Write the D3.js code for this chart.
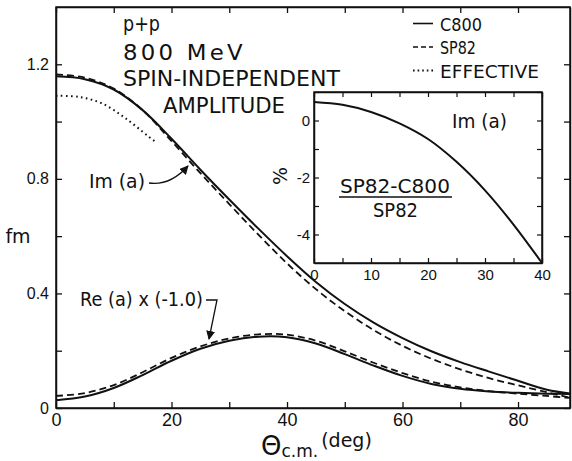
<!DOCTYPE html>
<html>
<head>
<meta charset="utf-8">
<script src="https://cdn.jsdelivr.net/npm/d3@7/dist/d3.min.js"></script>
<style>
  body { margin: 0; background: white; }
  svg { display: block; font-family: "DejaVu Sans", sans-serif; }
  .axis path, .axis line { stroke: #111; }
  .axis text { fill: #111; }
</style>
</head>
<body>
<div id="container"></div>
<script>
// angles (deg) and amplitudes (fm)
const deg = [0, 5, 10, 15, 20, 25, 30, 35, 40, 45, 50, 55, 60, 65, 70, 75, 80, 85, 89];
const imC800 = [1.158, 1.148, 1.112, 1.040, 0.940, 0.832, 0.728, 0.627, 0.530, 0.440, 0.363, 0.298, 0.244, 0.198, 0.160, 0.127, 0.095, 0.064, 0.051];
const imSP82 = [1.165, 1.153, 1.115, 1.040, 0.932, 0.820, 0.712, 0.606, 0.505, 0.415, 0.338, 0.272, 0.217, 0.172, 0.135, 0.104, 0.079, 0.055, 0.036];
const reC800 = [0.027, 0.040, 0.070, 0.115, 0.165, 0.207, 0.235, 0.249, 0.247, 0.225, 0.188, 0.148, 0.112, 0.084, 0.067, 0.058, 0.053, 0.050, 0.049];
const reSP82 = [0.042, 0.052, 0.080, 0.125, 0.175, 0.215, 0.243, 0.257, 0.256, 0.235, 0.198, 0.158, 0.122, 0.092, 0.072, 0.059, 0.050, 0.042, 0.035];
const effDeg = [0, 4, 8, 12, 16, 17.5];
const imEff = [1.090, 1.086, 1.063, 1.012, 0.948, 0.925];
// inset: (SP82 - C800)/SP82 in %
const insetDeg = [0, 5, 10, 15, 20, 25, 30, 35, 40];
const insetPct = [0.65, 0.55, 0.30, -0.10, -0.65, -1.45, -2.45, -3.65, -5.00];

const xTicks = [0, 10, 20, 30, 40, 50, 60, 70, 80];
const yTicks = [0, 0.2, 0.4, 0.6, 0.8, 1.0, 1.2];
const insetXTicks = [0, 5, 10, 15, 20, 25, 30, 35, 40];
const insetYTicks = [1, 0, -1, -2, -3, -4];
const legendNames = ["C800", "SP82", "EFFECTIVE"];

const W = 572, H = 461;
let svg = d3.select("#container").append("svg")
    .attr("width", W)
    .attr("height", H)
    .style("background-color", "white");

// writes a label and stretches it horizontally to the width it has in the figure
function fitText(parent, str, x, y, size, width, spacing) {
    let t = parent.append("text")
        .attr("font-size", size)
        .attr("fill", "#111")
        .style("letter-spacing", (spacing || 0) + "px")
        .text(str);
    let w = t.node().getComputedTextLength();
    t.attr("transform", `translate(${x},${y}) scale(${width / w},1)`);
    return t;
}

let x = d3.scaleLinear().domain([0, 89]).range([56, 570]);
let y = d3.scaleLinear().domain([0, 1.4]).range([408, 7]);

// frame
svg.append("rect")
    .attr("x", x(0)).attr("y", y(1.4))
    .attr("width", x(89) - x(0)).attr("height", y(0) - y(1.4))
    .attr("fill", "none").attr("stroke", "#111").attr("stroke-width", 1.5);

let bottomAxis = svg.append("g").attr("class", "axis")
    .attr("transform", `translate(0,${y(0)})`)
    .call(d3.axisBottom(x).tickValues(xTicks).tickSize(-6).tickSizeOuter(0).tickPadding(5)
        .tickFormat(d => d % 20 === 0 ? d : ""));
bottomAxis.selectAll("text").attr("font-size", 18);

svg.append("g").attr("class", "axis")
    .attr("transform", `translate(0,${y(1.4)})`)
    .call(d3.axisTop(x).tickValues(xTicks).tickSize(-6).tickSizeOuter(0).tickFormat(""));

let leftAxis = svg.append("g").attr("class", "axis")
    .attr("transform", `translate(${x(0)},0)`)
    .call(d3.axisLeft(y).tickValues(yTicks).tickSize(-6).tickSizeOuter(0).tickPadding(7)
        .tickFormat(d => {
            let k = Math.round(d * 10);
            if (k % 4 !== 0) return "";
            return k === 0 ? "0" : d3.format(".1f")(d);
        }));
leftAxis.selectAll("text").attr("font-size", 16);

svg.append("g").attr("class", "axis")
    .attr("transform", `translate(${x(89)},0)`)
    .call(d3.axisRight(y).tickValues(yTicks).tickSize(-6).tickSizeOuter(0).tickFormat(""));

svg.selectAll(".axis path").attr("stroke-width", 1.5);
svg.selectAll(".axis line").attr("stroke-width", 1.3);

// curves
let line = d3.line().x(d => x(d[0])).y(d => y(d[1])).curve(d3.curveCatmullRom);
function series(xs, ys) { return xs.map((v, i) => [v, ys[i]]); }

let curves = svg.append("g").attr("fill", "none").attr("stroke", "#111");
curves.append("path").attr("d", line(series(deg, imC800))).attr("stroke-width", 2);
curves.append("path").attr("d", line(series(deg, imSP82))).attr("stroke-width", 1.8).attr("stroke-dasharray", "7,4");
curves.append("path").attr("d", line(series(deg, reC800))).attr("stroke-width", 2);
curves.append("path").attr("d", line(series(deg, reSP82))).attr("stroke-width", 1.8).attr("stroke-dasharray", "7,4");
curves.append("path").attr("d", line(series(effDeg, imEff))).attr("stroke-width", 2)
    .attr("stroke-dasharray", "1.6,3.4");

// text block
let txt = svg.append("g");
fitText(txt, "p+p", 123, 31, 21, 37);
fitText(txt, "800 MeV", 123, 60, 21, 123, 3);
fitText(txt, "SPIN-INDEPENDENT", 123, 86, 21, 217);
fitText(txt, "AMPLITUDE", 163, 113, 21, 122);

// legend
let legend = svg.append("g");
let dashes = [null, "5,3", "1.6,3"];
let legendWidths = [42, 36, 99];
legendNames.forEach((name, i) => {
    let cy = 23.5 + i * 23.5;
    legend.append("line")
        .attr("x1", 413).attr("x2", 433).attr("y1", cy).attr("y2", cy)
        .attr("stroke", "#111").attr("stroke-width", i === 2 ? 2 : 1.6)
        .attr("stroke-dasharray", dashes[i]);
    fitText(legend, name, 440, cy + 7, 18, legendWidths[i]);
});

// axis titles
svg.append("text").attr("x", 18).attr("y", 243).attr("font-size", 19).attr("text-anchor", "middle")
    .attr("fill", "#111").text("fm");
let xt = svg.append("text").attr("x", 261).attr("y", 455).attr("fill", "#111");
xt.append("tspan").attr("font-size", 26).text("Θ");
xt.append("tspan").attr("font-size", 17).attr("dy", 2).text("c.m.");
xt.append("tspan").attr("font-size", 19).attr("dy", -10).attr("dx", 3).text("(deg)");

// curve labels with arrows
svg.append("defs").append("marker")
    .attr("id", "head").attr("viewBox", "0 0 10 10")
    .attr("refX", 9).attr("refY", 5)
    .attr("markerWidth", 9).attr("markerHeight", 9)
    .attr("markerUnits", "userSpaceOnUse")
    .attr("orient", "auto")
    .append("path").attr("d", "M0,0 L10,5 L0,10 Z").attr("fill", "#111");

fitText(svg, "Im (a)", 89, 188, 20, 56);
svg.append("path").attr("d", "M149,183 Q170,186 188,166")
    .attr("fill", "none").attr("stroke", "#111").attr("stroke-width", 1.3)
    .attr("marker-end", "url(#head)");

fitText(svg, "Re (a) x (-1.0)", 80, 306, 20, 123);
svg.append("path").attr("d", "M206,300 L217,300 L209,339")
    .attr("fill", "none").attr("stroke", "#111").attr("stroke-width", 1.3)
    .attr("marker-end", "url(#head)");

// inset
let xi = d3.scaleLinear().domain([0, 40]).range([314, 542]);
let yi = d3.scaleLinear().domain([-5, 1]).range([263, 92]);
let inset = svg.append("g");
inset.append("rect")
    .attr("x", xi(0)).attr("y", yi(1))
    .attr("width", xi(40) - xi(0)).attr("height", yi(-5) - yi(1))
    .attr("fill", "white").attr("stroke", "#111").attr("stroke-width", 1.5);

let ib = inset.append("g").attr("class", "axis")
    .attr("transform", `translate(0,${yi(-5)})`)
    .call(d3.axisBottom(xi).tickValues(insetXTicks).tickSize(-5).tickSizeOuter(0).tickPadding(6)
        .tickFormat(d => d % 10 === 0 ? d : ""));
ib.selectAll("text").attr("font-size", 15);
inset.append("g").attr("class", "axis")
    .attr("transform", `translate(0,${yi(1)})`)
    .call(d3.axisTop(xi).tickValues(insetXTicks).tickSize(-5).tickSizeOuter(0).tickFormat(""));
let il = inset.append("g").attr("class", "axis")
    .attr("transform", `translate(${xi(0)},0)`)
    .call(d3.axisLeft(yi).tickValues(insetYTicks).tickSize(-5).tickSizeOuter(0).tickPadding(4)
        .tickFormat(d => d % 2 === 0 ? d : ""));
il.selectAll("text").attr("font-size", 15);
inset.append("g").attr("class", "axis")
    .attr("transform", `translate(${xi(40)},0)`)
    .call(d3.axisRight(yi).tickValues(insetYTicks).tickSize(-5).tickSizeOuter(0).tickFormat(""));
inset.selectAll(".axis path").attr("stroke-width", 1.5);
inset.selectAll(".axis line").attr("stroke-width", 1.2);

let iline = d3.line().x(d => xi(d[0])).y(d => yi(d[1])).curve(d3.curveCatmullRom);
inset.append("path").attr("d", iline(series(insetDeg, insetPct)))
    .attr("fill", "none").attr("stroke", "#111").attr("stroke-width", 2);

fitText(inset, "Im (a)", 452, 128, 19, 55);
fitText(inset, "SP82-C800", 340, 193, 19, 110);
inset.append("line").attr("x1", 339).attr("x2", 452).attr("y1", 197).attr("y2", 197)
    .attr("stroke", "#111").attr("stroke-width", 1.5);
fitText(inset, "SP82", 373, 217, 19, 45);
inset.append("text").attr("transform", "translate(287,176) rotate(-90)")
    .attr("text-anchor", "middle").attr("font-size", 19).attr("fill", "#111").text("%");
</script>
</body>
</html>
